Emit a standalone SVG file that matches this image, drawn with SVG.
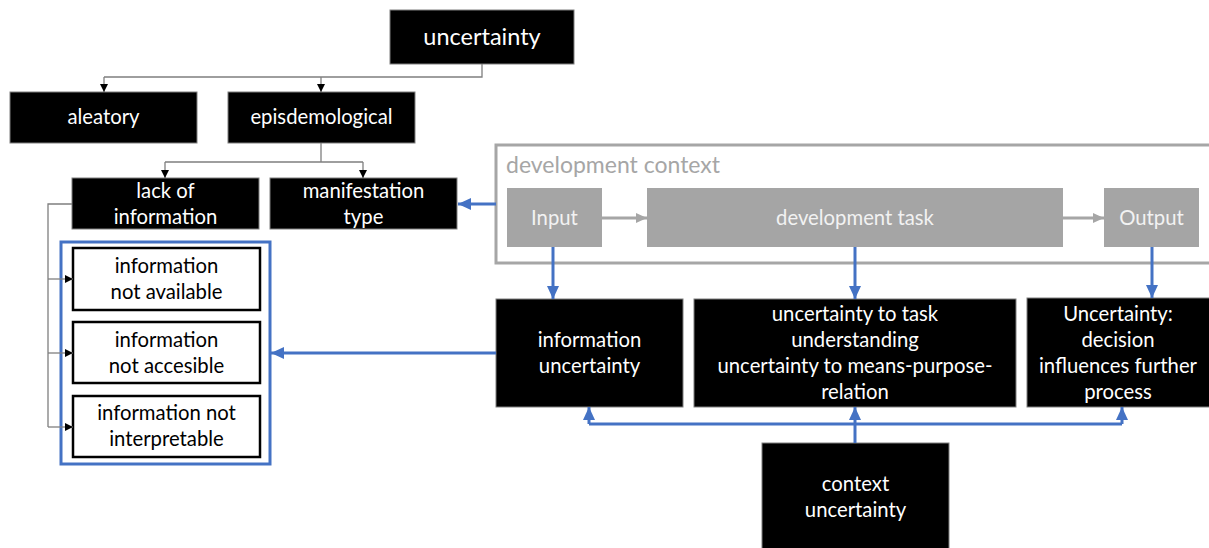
<svg xmlns="http://www.w3.org/2000/svg" width="1209" height="548" viewBox="0 0 1209 548">
<defs>
<marker id="ah" markerWidth="8" markerHeight="8" refX="8" refY="4" orient="auto" markerUnits="userSpaceOnUse"><path d="M0,0 L8,4 L0,8 z" fill="#000"/></marker>
<marker id="ab" markerWidth="14" markerHeight="14" refX="13" refY="7" orient="auto" markerUnits="userSpaceOnUse"><path d="M0,1 L13,7 L0,13 z" fill="#4472C4"/></marker>
<marker id="ag" markerWidth="12" markerHeight="12" refX="11" refY="6" orient="auto" markerUnits="userSpaceOnUse"><path d="M0,1 L11,6 L0,11 z" fill="#A6A6A6"/></marker>
<style>
.blk{fill:#000;stroke:#7f7f7f;stroke-width:1}
.wht{fill:#fff;stroke:#000;stroke-width:2.5}
.gry{fill:#A5A5A5}
.t{font-family:Lato,"Open Sans",sans-serif;font-size:20.3px;text-anchor:middle}
.tw{fill:#fff}
.tk{fill:#000}
.tg{fill:#F2F2F2}
.thin{fill:none;stroke:#7f7f7f;stroke-width:1.3}
.blue{fill:none;stroke:#4472C4;stroke-width:3}
.gl{fill:none;stroke:#A6A6A6;stroke-width:3}
</style>
</defs>
<g id="dev-context">
<rect x="496" y="145" width="715" height="118" fill="#fff" stroke="#A6A6A6" stroke-width="3"/>
<text x="506" y="173" font-family="Lato,'Open Sans',sans-serif" font-size="23" fill="#A6A6A6">development context</text>
</g>
<g id="n-uncertainty"><rect class="blk" x="390" y="10" width="184" height="54"/><text class="t tw" x="482" y="45" style="font-size:23.5px">uncertainty</text></g>
<g id="n-aleatory"><rect class="blk" x="10" y="92" width="187" height="51"/><text class="t tw" x="103.5" y="124">aleatory</text></g>
<g id="n-epis"><rect class="blk" x="228" y="92" width="187" height="51"/><text class="t tw" x="321.5" y="124">episdemological</text></g>
<g id="n-lack"><rect class="blk" x="72" y="178" width="187" height="51"/><text class="t tw" x="165.5" y="198">lack of</text><text class="t tw" x="165.5" y="224">information</text></g>
<g id="n-manif"><rect class="blk" x="270" y="178" width="187" height="51"/><text class="t tw" x="363.5" y="198">manifestation</text><text class="t tw" x="363.5" y="224">type</text></g>
<g id="n-group"><rect x="61" y="242" width="209" height="222" fill="none" stroke="#4472C4" stroke-width="3"/></g>
<g id="n-na"><rect class="wht" x="73" y="248" width="187" height="62"/><text class="t tk" x="166.5" y="273">information</text><text class="t tk" x="166.5" y="299">not available</text></g>
<g id="n-nacc"><rect class="wht" x="73" y="322" width="187" height="61"/><text class="t tk" x="166.5" y="347">information</text><text class="t tk" x="166.5" y="373">not accesible</text></g>
<g id="n-nint"><rect class="wht" x="73" y="396" width="187" height="61"/><text class="t tk" x="166.5" y="420">information not</text><text class="t tk" x="166.5" y="446">interpretable</text></g>
<g id="n-input"><rect class="gry" x="507" y="188" width="95" height="59"/><text class="t tg" x="554.5" y="225">Input</text></g>
<g id="n-task"><rect class="gry" x="647" y="188" width="416" height="59"/><text class="t tg" x="855" y="225">development task</text></g>
<g id="n-output"><rect class="gry" x="1104" y="188" width="95" height="59"/><text class="t tg" x="1151.5" y="225">Output</text></g>
<g id="n-infounc"><rect class="blk" x="496" y="299" width="187" height="108"/><text class="t tw" x="589.5" y="347">information</text><text class="t tw" x="589.5" y="373">uncertainty</text></g>
<g id="n-taskunc"><rect class="blk" x="694" y="299" width="322" height="108"/><text class="t tw" x="855" y="321">uncertainty to task</text><text class="t tw" x="855" y="347">understanding</text><text class="t tw" x="855" y="373">uncertainty to means-purpose-</text><text class="t tw" x="855" y="399">relation</text></g>
<g id="n-decision"><rect class="blk" x="1027" y="298" width="185" height="109"/><text class="t tw" x="1118" y="321">Uncertainty:</text><text class="t tw" x="1118" y="347">decision</text><text class="t tw" x="1118" y="373">influences further</text><text class="t tw" x="1118" y="399">process</text></g>
<g id="n-context"><rect class="blk" x="762" y="443" width="187" height="108"/><text class="t tw" x="855.5" y="491">context</text><text class="t tw" x="855.5" y="517">uncertainty</text></g>
<g id="connectors">
<path class="thin" d="M482,64 V77 H104"/>
<path class="thin" d="M104,77 V92" marker-end="url(#ah)"/>
<path class="thin" d="M321,77 V92" marker-end="url(#ah)"/>
<path class="thin" d="M321,143 V162 M165,162 H363"/>
<path class="thin" d="M165,162 V178" marker-end="url(#ah)"/>
<path class="thin" d="M363,162 V178" marker-end="url(#ah)"/>
<path class="thin" d="M72,204 H48 V427"/>
<path class="thin" d="M48,279 H73" marker-end="url(#ah)"/>
<path class="thin" d="M48,353 H73" marker-end="url(#ah)"/>
<path class="thin" d="M48,427 H73" marker-end="url(#ah)"/>
<path class="gl" d="M602,218 H647" marker-end="url(#ag)"/>
<path class="gl" d="M1063,218 H1104" marker-end="url(#ag)"/>
<path class="blue" d="M496,204 H458" marker-end="url(#ab)"/>
<path class="blue" d="M553,247 V299" marker-end="url(#ab)"/>
<path class="blue" d="M855,247 V299" marker-end="url(#ab)"/>
<path class="blue" d="M1152,247 V298" marker-end="url(#ab)"/>
<path class="blue" d="M496,353 H271" marker-end="url(#ab)"/>
<path class="blue" d="M855,443 V407" marker-end="url(#ab)"/>
<path class="blue" d="M589,424 H1122"/>
<path class="blue" d="M589,424 V407" marker-end="url(#ab)"/>
<path class="blue" d="M1122,424 V407" marker-end="url(#ab)"/>
</g>
</svg>
